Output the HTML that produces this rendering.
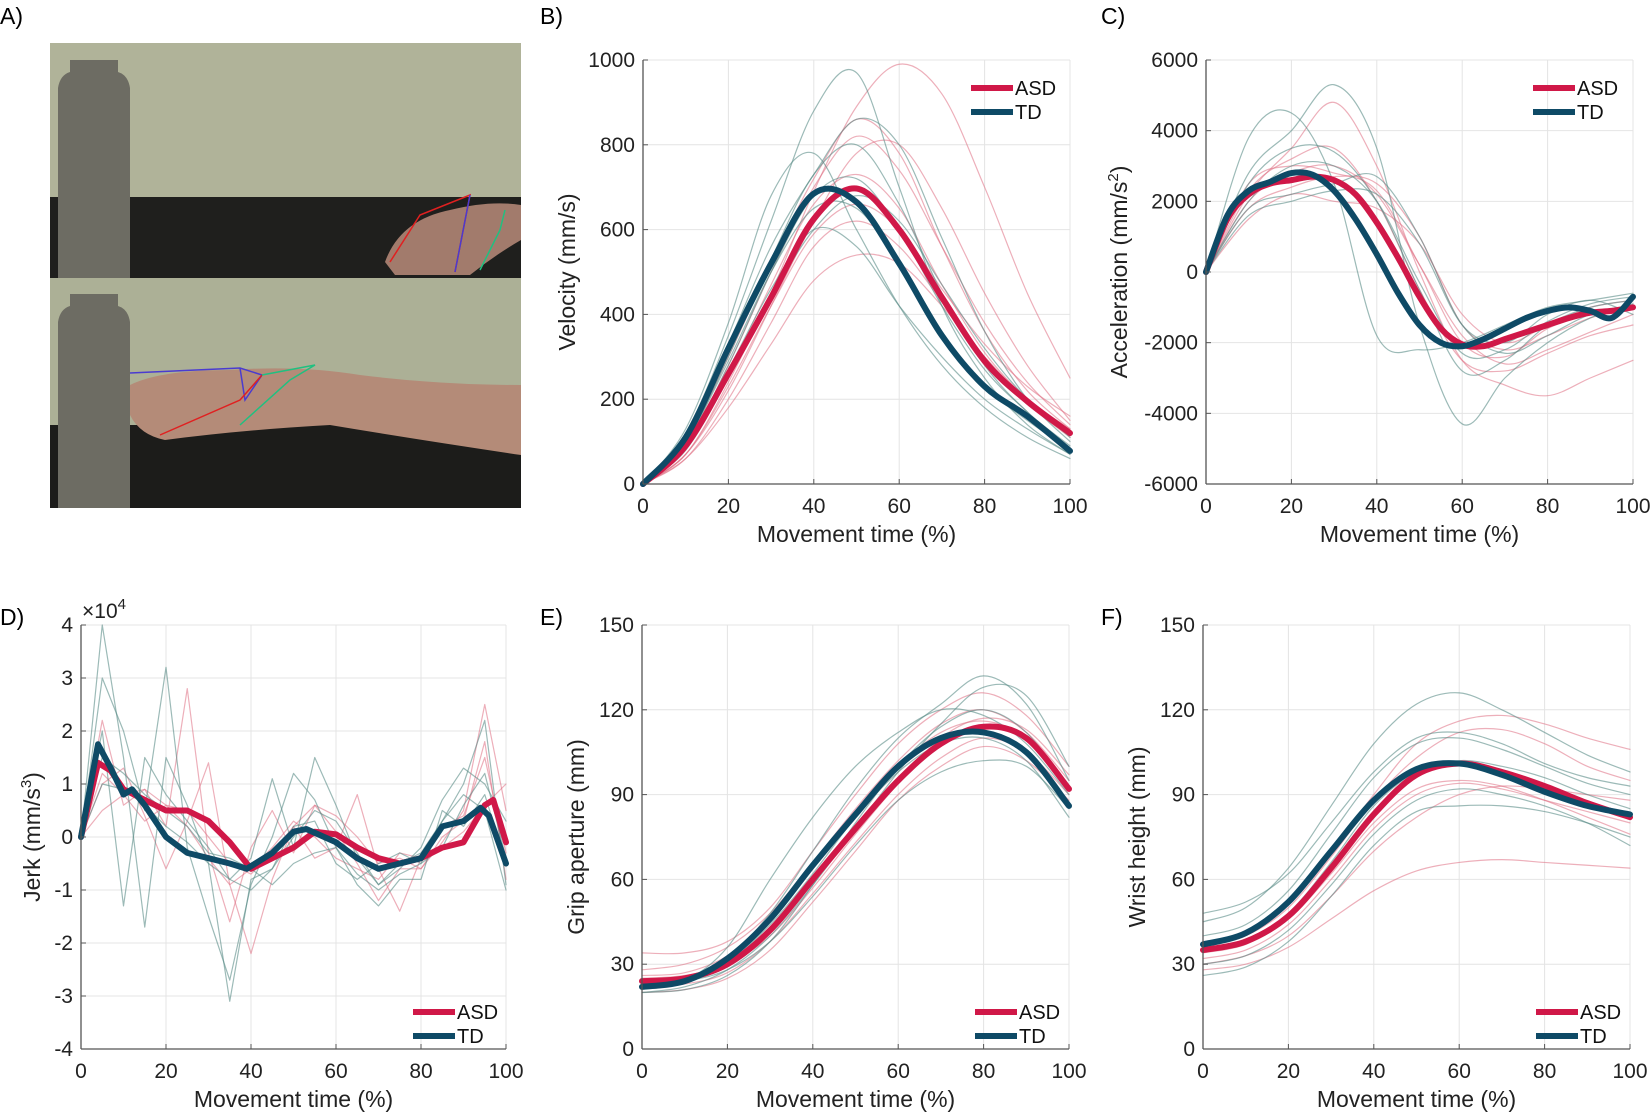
<!DOCTYPE html>
<html><head><meta charset="utf-8"><style>
html,body{margin:0;padding:0;background:#fff}
svg{display:block;font-family:"Liberation Sans",sans-serif}
</style></head><body>
<svg id="fig" width="1652" height="1120" viewBox="0 0 1652 1120" xmlns="http://www.w3.org/2000/svg">
<g>
  <rect x="50" y="43" width="471" height="235" fill="#b0b399"/>
  <rect x="50" y="197" width="471" height="81" fill="#1f1f1d"/>
  <rect x="50" y="278" width="471" height="230" fill="#acb096"/>
  <rect x="50" y="425" width="471" height="83" fill="#1c1c1a"/>
  <path d="M58,278 L58,88 Q60,75 70,72 L70,60 L118,60 L118,72 Q128,75 130,88 L130,278 Z" fill="#6d6c63"/>
  <path d="M58,508 L58,322 Q60,309 70,306 L70,294 L118,294 L118,306 Q128,309 130,322 L130,508 Z" fill="#6d6c63"/>
  <path d="M385,262 Q400,220 450,210 Q490,200 521,205 L521,240 Q495,255 470,275 L395,275 Z" fill="#a27b6c"/>
  <path d="M130,385 Q160,370 230,370 Q300,365 360,375 Q440,385 521,385 L521,455 Q420,440 330,425 Q240,430 165,440 Q140,435 130,415 Z" fill="#b48b78"/>
  <polyline points="130,373 240,368 262,375 245,400 240,368" fill="none" stroke="#4a3bd0" stroke-width="1.5"/>
  <polyline points="160,435 240,400 262,375" fill="none" stroke="#e02020" stroke-width="1.5"/>
  <polyline points="240,425 290,380 315,365 262,375" fill="none" stroke="#20c080" stroke-width="1.5"/>
  <polyline points="390,262 420,215 470,195 455,272" fill="none" stroke="#e02020" stroke-width="1.5"/>
  <polyline points="455,272 470,195" fill="none" stroke="#4a3bd0" stroke-width="1.5"/>
  <polyline points="480,270 500,230 505,210" fill="none" stroke="#20c080" stroke-width="1.5"/>
</g>
<g id="plots"></g>
<text x="0" y="24" font-size="23">A)</text>
<text x="540" y="24" font-size="23">B)</text>
<text x="1101" y="24" font-size="23">C)</text>
<text x="0" y="625" font-size="23">D)</text>
<text x="540" y="625" font-size="23">E)</text>
<text x="1101" y="625" font-size="23">F)</text>
</svg>
<script>
// ---------- DATA ----------
const xPct = [0,10,20,30,40,50,60,70,80,90,100];
const xPct5 = [0,5,10,15,20,25,30,35,40,45,50,55,60,65,70,75,80,85,90,95,100];
// B velocity
const velAsdMean = [0,90,260,440,625,697,600,440,290,195,120];
const velTdMean  = [0,110,320,520,685,665,520,350,230,160,78];
const velAsdThin = [
 [0,70,220,420,620,780,800,650,450,280,150],
 [0,60,200,380,560,620,560,430,300,190,110],
 [0,90,280,500,700,820,740,560,380,240,140],
 [0,70,240,450,690,890,990,920,700,450,250],
 [0,60,180,330,480,540,520,420,300,200,130],
 [0,80,260,470,660,730,650,470,310,200,120],
 [0,100,300,520,720,860,780,560,360,220,130],
 [0,70,230,420,590,660,600,460,330,230,160]];
const velTdThin = [
 [0,120,350,620,880,970,700,420,250,140,70],
 [0,130,380,680,780,600,420,280,180,110,60],
 [0,100,300,530,730,800,660,450,280,170,90],
 [0,90,280,500,680,720,600,420,270,170,80],
 [0,110,330,560,730,860,800,580,360,200,100],
 [0,90,270,460,600,560,420,300,200,130,70],
 [0,100,290,500,650,650,520,360,230,150,80],
 [0,80,250,440,600,680,620,470,320,200,110]];
// C acceleration
const accAsdMean = [0,1500,2200,2500,2600,2700,2600,2200,1400,400,-700,-1600,-2050,-2100,-1900,-1700,-1500,-1300,-1150,-1100,-1000];
const accTdMean  = [0,1600,2300,2550,2800,2750,2300,1500,500,-600,-1500,-2000,-2100,-1900,-1600,-1300,-1100,-1000,-1100,-1300,-700];
const accAsdThin = [
 [0,2300,3200,3500,2000,-500,-2500,-2800,-2300,-1800,-1500],
 [0,2000,2800,3000,2200,200,-1800,-2600,-2200,-1700,-1200],
 [0,1800,2400,2700,2500,1000,-1500,-2200,-1800,-1300,-1000],
 [0,2200,3500,4800,3000,0,-2500,-3200,-3500,-3000,-2500],
 [0,1500,2200,2000,1800,800,-1200,-2000,-1500,-1000,-800],
 [0,2500,3000,2800,2300,200,-2000,-2400,-1600,-1200,-1000]];
const accTdThin = [
 [0,2800,4000,5300,3500,-1500,-4300,-3000,-2000,-1300,-900],
 [0,3800,4500,2500,-1800,-2200,-2000,-1500,-1000,-800,-600],
 [0,2500,3500,3400,2000,-500,-2800,-2500,-1500,-1000,-800],
 [0,1800,2200,2500,2700,1000,-1500,-2300,-1800,-1200,-1000],
 [0,2000,3000,3000,2000,-300,-2300,-2200,-1400,-900,-700],
 [0,1600,2000,2300,2200,800,-1500,-2000,-1200,-800,-1200]];
// D jerk (x1e4)
const jerkAsdX = [0,4,7,10,15,20,25,30,35,40,45,50,55,60,65,70,75,80,85,90,95,97,100];
const jerkAsdMean = [0,1.4,1.25,0.9,0.7,0.5,0.5,0.3,-0.1,-0.6,-0.4,-0.2,0.1,0.05,-0.2,-0.4,-0.5,-0.4,-0.2,-0.1,0.6,0.7,-0.1];
const jerkTdX = [0,4,7,10,12,15,20,25,30,35,39,45,50,53,60,65,70,75,80,85,90,94,96,100];
const jerkTdMean = [0,1.75,1.3,0.8,0.9,0.6,0,-0.3,-0.4,-0.5,-0.6,-0.3,0.1,0.15,-0.1,-0.4,-0.6,-0.5,-0.4,0.2,0.3,0.55,0.4,-0.5];
const jerkAsdThin = [
 [0,1.2,0.8,0.3,0.6,0.2,-0.4,-0.9,-0.6,-0.2,0.3,0.0,-0.4,-0.6,-0.8,-0.3,-0.4,0.2,0.4,1.5,-0.3],
 [0,2.2,0.6,0.9,0.2,2.8,-0.3,-1.6,-0.2,0.5,-0.3,0.6,0.1,-0.5,-1.2,-0.6,-0.6,-0.1,0.5,2.5,0.5],
 [0,1.0,1.3,0.4,-0.6,0.3,1.4,-0.9,-2.2,-0.8,0.2,-0.4,-0.2,0.8,-0.6,-1.4,-0.4,-0.2,0.1,0.6,1.0],
 [0,0.5,0.8,0.9,0.6,0.5,0.0,-0.5,-0.7,-0.3,0.2,0.6,0.4,0.0,-0.5,-0.4,-0.6,0.0,0.3,1.8,-0.8]];
const jerkTdThin = [
 [0,4.0,1.5,-1.7,1.5,0.6,-0.5,-3.1,-0.8,-0.6,0.2,0.3,-0.5,-0.8,-0.5,-0.3,-0.5,0.3,1.0,2.2,-0.9],
 [0,3.0,2.0,0.5,3.2,-0.2,-1.5,-2.7,-0.9,0.0,1.2,0.7,-0.2,-0.9,-1.3,-0.8,-0.8,0.5,0.2,0.8,-0.5],
 [0,2.0,-1.3,1.5,0.8,0.3,-0.2,-0.8,-0.4,1.1,-0.2,1.5,0.6,-0.4,-0.9,-0.6,-0.2,0.7,1.3,1.0,0.3],
 [0,1.5,1.2,0.8,0.5,0.2,-0.3,-0.4,-0.6,-0.9,-0.5,-0.3,-0.2,-0.7,-1.0,-0.7,-0.5,-0.2,0.6,1.2,-0.4],
 [0,1.0,0.9,0.6,0.2,-0.1,-0.5,-0.8,-1.0,-0.6,0.0,0.5,0.3,-0.3,-0.9,-0.5,-0.3,0.3,0.8,0.5,-1.0]];
// E grip aperture
const gripAsdMean = [24,25,30,42,60,78,95,108,114,110,92];
const gripTdMean  = [22,24,32,46,65,83,100,110,112,105,86];
const gripAsdThin = [
 [34,34,38,50,70,90,108,120,126,118,100],
 [22,23,27,38,55,73,90,103,110,105,90],
 [28,30,36,48,66,85,102,115,120,112,95],
 [20,21,25,35,52,70,88,100,107,102,88],
 [25,26,30,40,57,76,94,110,117,113,97],
 [26,27,33,46,64,83,100,112,116,110,92]];
const gripTdThin = [
 [21,24,36,60,82,100,112,120,118,108,90],
 [20,22,28,40,58,78,98,115,128,125,100],
 [22,24,32,48,70,92,110,122,132,122,95],
 [23,24,28,38,54,72,88,98,102,100,85],
 [20,21,26,38,58,80,100,114,120,112,92],
 [24,25,31,44,62,82,98,108,110,102,82]];
// F wrist height
const wristAsdMean = [35,38,47,64,83,97,101,98,93,87,82];
const wristTdMean  = [37,41,52,70,88,99,101,97,91,86,83];
const wristAsdThin = [
 [30,33,40,54,70,82,90,93,92,90,88],
 [28,30,36,46,56,63,66,67,66,65,64],
 [38,41,52,70,90,108,116,118,115,110,106],
 [32,35,44,60,78,90,94,92,88,84,80],
 [36,40,50,68,88,103,112,113,108,100,95],
 [34,37,46,62,80,92,95,93,88,82,76]];
const wristTdThin = [
 [45,50,64,86,108,122,126,120,112,104,98],
 [26,29,38,54,72,84,86,86,84,80,75],
 [40,44,56,76,96,108,110,106,100,94,90],
 [48,52,62,80,98,110,112,108,101,96,93],
 [30,33,42,58,76,88,92,90,86,80,72],
 [35,38,48,66,86,98,102,100,96,90,85]];
const xTicks = [0,20,40,60,80,100];
const velTicks = [0,200,400,600,800,1000];
const accTicks = [-6000,-4000,-2000,0,2000,4000,6000];
const jerkTicks = [-4,-3,-2,-1,0,1,2,3,4];
const mmTicks = [0,30,60,90,120,150];

// ---------- DRAWING ----------
const NS = "http://www.w3.org/2000/svg";
const root = document.getElementById('plots');
const ASD = '#d01848', TD = '#0e4a66', ASDt = 'rgba(222,110,130,0.55)', TDt = 'rgba(90,140,135,0.6)';
function mk(tag, attrs, parent){ const e=document.createElementNS(NS,tag); for(const k in attrs) e.setAttribute(k,attrs[k]); (parent||root).appendChild(e); return e; }
function smoothPath(pts){
  let d='M'+pts[0][0]+','+pts[0][1];
  for(let i=0;i<pts.length-1;i++){
    const p0=pts[Math.max(i-1,0)],p1=pts[i],p2=pts[i+1],p3=pts[Math.min(i+2,pts.length-1)];
    const c1=[p1[0]+(p2[0]-p0[0])/6,p1[1]+(p2[1]-p0[1])/6], c2=[p2[0]-(p3[0]-p1[0])/6,p2[1]-(p3[1]-p1[1])/6];
    d+=' C'+c1[0]+','+c1[1]+' '+c2[0]+','+c2[1]+' '+p2[0]+','+p2[1];
  }
  return d;
}
function linePath(pts){ return 'M'+pts.map(p=>p[0]+','+p[1]).join(' L'); }

function panel(cfg){
  const g = mk('g',{});
  
  
  const sx = v => cfg.x0 + (v-0)/(100)*(cfg.x1-cfg.x0);
  const sy = v => cfg.y0 + (v-cfg.ymin)/(cfg.ymax-cfg.ymin)*(cfg.y1-cfg.y0);
  xTicks.forEach(t=>{ const l=mk('line',{x1:sx(t),x2:sx(t),y1:cfg.y0,y2:cfg.y1,stroke:'#e4e4e4','stroke-width':1},g);
      });
  cfg.yTicks.forEach(t=>{ const l=mk('line',{x1:cfg.x0,x2:cfg.x1,y1:sy(t),y2:sy(t),stroke:'#e4e4e4','stroke-width':1},g);
      });
  const draw = (xs, ys, color, w, name, smooth) => {
    const pts = ys.map((v,i)=>[sx(xs[i]), sy(v)]);
    const p = mk('path',{d: smooth?smoothPath(pts):linePath(pts), fill:'none', stroke:color, 'stroke-width':w,'stroke-linejoin':'round','stroke-linecap':'round'},g);
    
    
  };
  const thinX = cfg.thinX;
  cfg.asdThin.forEach(s=>draw(thinX,s,ASDt,1.2,'asd-participant-line',cfg.smooth));
  cfg.tdThin.forEach(s=>draw(thinX,s,TDt,1.2,'td-participant-line',cfg.smooth));
  draw(cfg.asdX, cfg.asdMean, ASD, 6, 'asd-mean-line', cfg.smooth);
  draw(cfg.tdX, cfg.tdMean, TD, 6, 'td-mean-line', cfg.smooth);
  const ax = mk('path',{d:`M${cfg.x0},${cfg.y0} L${cfg.x0},${cfg.y1} M${cfg.x0},${cfg.y0} L${cfg.x1},${cfg.y0}`,stroke:'#555',fill:'none','stroke-width':1.3},g);
   
  xTicks.forEach(t=>{
    mk('line',{x1:sx(t),x2:sx(t),y1:cfg.y0,y2:cfg.y0-5,stroke:'#555'},g);
    const tx = mk('text',{x:sx(t),y:cfg.y0+29,'font-size':21,'text-anchor':'middle',fill:'#222'},g);
    tx.textContent=t;
     
  });
  cfg.yTicks.forEach(t=>{
    mk('line',{x1:cfg.x0,x2:cfg.x0+5,y1:sy(t),y2:sy(t),stroke:'#555'},g);
    const tx = mk('text',{x:cfg.x0-8,y:sy(t)+7,'font-size':21,'text-anchor':'end',fill:'#222'},g);
    tx.textContent=t;
     
  });
  const xt = mk('text',{x:(cfg.x0+cfg.x1)/2,y:cfg.y0+58,'font-size':23,'text-anchor':'middle',fill:'#222'},g);
  xt.textContent='Movement time (%)';
   
  const cy=(cfg.y0+cfg.y1)/2;
  const yt = mk('text',{x:cfg.ytX,y:cy,'font-size':23,'text-anchor':'middle',fill:'#222',transform:`rotate(-90 ${cfg.ytX} ${cy})`},g);
  yt.innerHTML = cfg.ytitle;
   
  const L = cfg.leg;
  [['ASD',ASD,0],['TD',TD,24]].forEach(([lab,col,dy])=>{
    const ln = mk('line',{x1:L[0],x2:L[0]+42,y1:L[1]+dy,y2:L[1]+dy,stroke:col,'stroke-width':6},g);
     
    const tx = mk('text',{x:L[0]+44,y:L[1]+dy+7,'font-size':20,fill:'#111'},g);
    tx.textContent=lab;
     
  });
}
panel({name:'velocity-chart',x0:643,x1:1070,y0:484,y1:60,ymin:0,ymax:1000,yTicks:velTicks,thinX:xPct,asdX:xPct,tdX:xPct,
  asdMean:velAsdMean,tdMean:velTdMean,asdThin:velAsdThin,tdThin:velTdThin,smooth:true,ytX:575,ytitle:'Velocity (mm/s)',leg:[971,88]});
panel({name:'acceleration-chart',x0:1206,x1:1633,y0:484,y1:60,ymin:-6000,ymax:6000,yTicks:accTicks,thinX:xPct,asdX:xPct5,tdX:xPct5,
  asdMean:accAsdMean,tdMean:accTdMean,asdThin:accAsdThin,tdThin:accTdThin,smooth:true,ytX:1127,ytitle:'Acceleration (mm/s<tspan font-size="15" dy="-9">2</tspan><tspan dy="9">)</tspan>',leg:[1533,88]});
panel({name:'jerk-chart',x0:81,x1:506,y0:1049,y1:625,ymin:-4,ymax:4,yTicks:jerkTicks,thinX:xPct5,asdX:jerkAsdX,tdX:jerkTdX,
  asdMean:jerkAsdMean,tdMean:jerkTdMean,asdThin:jerkAsdThin,tdThin:jerkTdThin,smooth:false,ytX:40,ytitle:'Jerk (mm/s<tspan font-size="15" dy="-9">3</tspan><tspan dy="9">)</tspan>',leg:[413,1012]});
panel({name:'grip-aperture-chart',x0:642,x1:1069,y0:1049,y1:625,ymin:0,ymax:150,yTicks:mmTicks,thinX:xPct,asdX:xPct,tdX:xPct,
  asdMean:gripAsdMean,tdMean:gripTdMean,asdThin:gripAsdThin,tdThin:gripTdThin,smooth:true,ytX:584,ytitle:'Grip aperture (mm)',leg:[975,1012]});
panel({name:'wrist-height-chart',x0:1203,x1:1630,y0:1049,y1:625,ymin:0,ymax:150,yTicks:mmTicks,thinX:xPct,asdX:xPct,tdX:xPct,
  asdMean:wristAsdMean,tdMean:wristTdMean,asdThin:wristAsdThin,tdThin:wristTdThin,smooth:true,ytX:1145,ytitle:'Wrist height (mm)',leg:[1536,1012]});
const ex = mk('text',{x:82,y:618,'font-size':21,fill:'#222'});
ex.innerHTML='×10<tspan font-size="15" dy="-9">4</tspan>';


</script>
</body></html>
